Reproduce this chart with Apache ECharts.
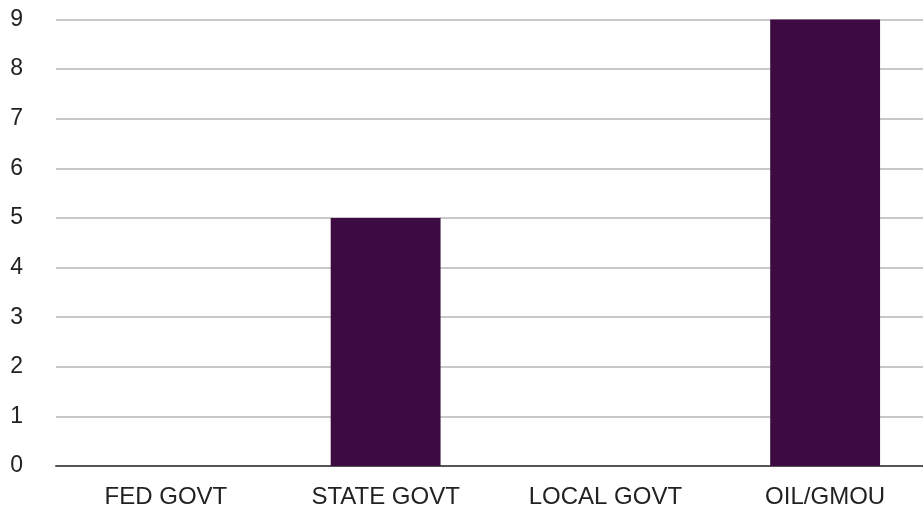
<!DOCTYPE html>
<html>
<head>
<meta charset="utf-8">
<style>
  html, body { margin: 0; padding: 0; background: #ffffff; overflow: hidden; width: 923px; height: 509px; }
  /* the drawing surface runs a little past the right edge of the page */
  #chart { width: 935px; height: 509px; }
</style>
<script src="https://cdn.jsdelivr.net/npm/echarts@6/dist/echarts.min.js"></script>
</head>
<body>
<div id="chart"></div>
<script>
// Count per sector
const categories = ['FED GOVT', 'STATE GOVT', 'LOCAL GOVT', 'OIL/GMOU'];
const values = [0, 5, 0, 9];
const yTicks = [0, 1, 2, 3, 4, 5, 6, 7, 8, 9];

const chart = echarts.init(document.getElementById('chart'), null, { renderer: 'canvas' });

chart.setOption({
  animation: false,
  backgroundColor: '#ffffff',
  grid: { left: 56, right: 0, top: 19.5, height: 447, containLabel: false },
  xAxis: {
    type: 'category',
    data: categories,
    axisLine: { show: true, lineStyle: { color: '#555555', width: 2 } },
    axisTick: { show: false },
    axisLabel: {
      interval: 0,
      margin: 19,
      color: '#222222',
      fontSize: 24,
      fontFamily: 'Liberation Sans, Arial, Helvetica, sans-serif'
    }
  },
  yAxis: {
    type: 'value',
    min: yTicks[0],
    max: yTicks[yTicks.length - 1],
    interval: 1,
    axisLine: { show: false },
    axisTick: { show: false },
    splitLine: { show: true, lineStyle: { color: '#c8c8c8', width: 2 } },
    axisLabel: {
      margin: 33,
      align: 'right',
      color: '#222222',
      fontSize: 23,
      fontFamily: 'Liberation Sans, Arial, Helvetica, sans-serif'
    }
  },
  series: [{
    type: 'bar',
    data: values,
    barWidth: '50%',
    itemStyle: { color: '#3d0b42' }
  }]
});
</script>
</body>
</html>
